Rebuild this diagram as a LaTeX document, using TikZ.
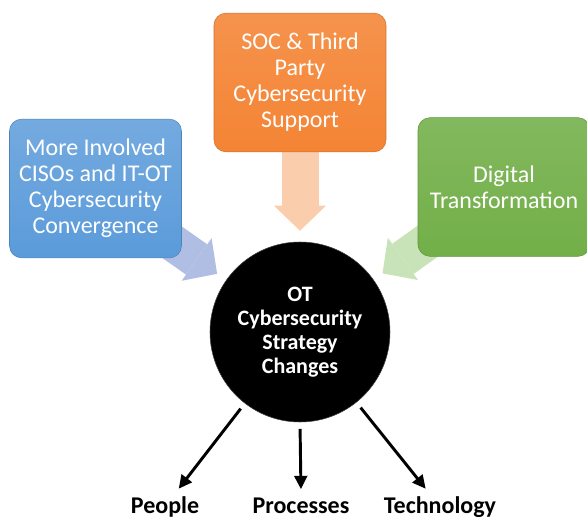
\documentclass[tikz,border=0pt]{standalone}
\usepackage{fontspec}
\setmainfont{Carlito}
\usepackage{xcolor}
\usepackage{tikz}
\usetikzlibrary{shapes, arrows.meta, positioning, backgrounds}

\definecolor{cisoBlue}{RGB}{91,155,218}
\definecolor{socOrange}{RGB}{244,132,52}
\definecolor{digiGreen}{RGB}{114,175,72}
\definecolor{blueArrow}{RGB}{176,190,228}
\definecolor{orangeArrow}{RGB}{250,206,172}
\definecolor{greenArrow}{RGB}{200,227,183}

\begin{document}
\begin{tikzpicture}
  [
    x=0.75pt, y=-0.75pt,
    Box/.style={rectangle, rounded corners=9pt, minimum width=129pt, minimum height=104pt, inner sep=2pt, text=white, align=center, font=\fontsize{18}{19.5}\selectfont},
    Blue/.style={Box, top color=cisoBlue!85!white, bottom color=cisoBlue, draw=cisoBlue!85!black},
    Orange/.style={Box, top color=socOrange!88!white, bottom color=socOrange, draw=socOrange!85!black},
    Green/.style={Box, top color=digiGreen!88!white, bottom color=digiGreen, draw=digiGreen!85!black},
    Hub/.style={circle, fill=black, draw=black!75, minimum size=135pt, inner sep=0pt, text=white, align=center, font=\bfseries\fontsize{16.5}{18}\selectfont},
    Fat/.style={line width=27.75pt, -{Triangle[length=18.75pt, width=39pt, line width=0pt]}, shorten >=8.25pt},
    Spoke/.style={draw, line width=2.2pt, -{Triangle[length=10pt, width=9.5pt]}, shorten <=5pt, shorten >=3pt},
    Label/.style={anchor=base, inner sep=3pt, font=\bfseries\fontsize{18}{20}\selectfont}
  ]
  \useasboundingbox (0,0) rectangle (587,521);

  % Nodes
  \node[Blue] (cisos) at(95.5, 188.5) {More Involved\\CISOs and IT-OT\\Cybersecurity\\Convergence};

  \node[Orange] (soc) at(300, 82.5) {SOC \& Third\\Party\\Cybersecurity\\Support};

  \node[Green] (digital) at(504, 187) {Digital\\Transformation};

  \node[Hub] (hub) at(300, 332) {OT\\Cybersecurity\\Strategy\\Changes};

  \node[Label] (people) at(165, 513) {People};

  \node[Label] (processes) at(301, 513) {Processes};

  \node[Label] (technology) at(440, 513) {Technology};

  % Block arrows, kept under the boxes
  \begin{pgfonlayer}{background}
    \draw[Fat, draw=blueArrow, fill=blueArrow] (cisos.center) -- (hub);
    \draw[Fat, draw=orangeArrow, fill=orangeArrow] (soc.center) -- (hub);
    \draw[Fat, draw=greenArrow, fill=greenArrow] (digital.center) -- (hub);
  \end{pgfonlayer}

  % Lines
  \path[Spoke] (hub) -- (people);
  \path[Spoke] (hub.south) -- (processes.north);
  \path[Spoke] (hub) -- (technology);

\end{tikzpicture}
\end{document}
